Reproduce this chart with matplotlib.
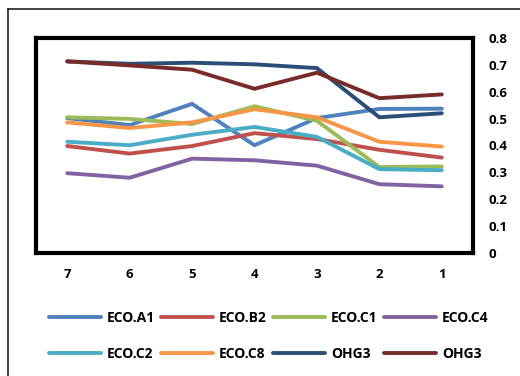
import matplotlib
matplotlib.use("Agg")
import matplotlib.pyplot as plt
from matplotlib.lines import Line2D

plt.rcParams['font.family'] = ['Open Sans', 'DejaVu Sans']

categories = ['7', '6', '5', '4', '3', '2', '1']
yticks = [0, 0.1, 0.2, 0.3, 0.4, 0.5, 0.6, 0.7, 0.8]
ytick_labels = ['0', '0.1', '0.2', '0.3', '0.4', '0.5', '0.6', '0.7', '0.8']

eco_a1 = [0.502, 0.476, 0.555, 0.401, 0.502, 0.536, 0.537]
eco_b2 = [0.398, 0.370, 0.398, 0.446, 0.424, 0.384, 0.355]
eco_c1 = [0.505, 0.499, 0.480, 0.546, 0.492, 0.320, 0.322]
eco_c4 = [0.297, 0.280, 0.351, 0.345, 0.325, 0.256, 0.248]
eco_c2 = [0.414, 0.401, 0.440, 0.469, 0.432, 0.312, 0.308]
eco_c8 = [0.486, 0.465, 0.486, 0.535, 0.505, 0.414, 0.396]
ohg3_a = [0.713, 0.704, 0.708, 0.702, 0.688, 0.505, 0.520]
ohg3_b = [0.713, 0.698, 0.682, 0.611, 0.671, 0.576, 0.590]

series = [
    ('ECO.A1', eco_a1, '#4F81BD'),
    ('ECO.B2', eco_b2, '#C0504D'),
    ('ECO.C1', eco_c1, '#9BBB59'),
    ('ECO.C4', eco_c4, '#8064A2'),
    ('ECO.C2', eco_c2, '#4BACC6'),
    ('ECO.C8', eco_c8, '#F79646'),
    ('OHG3', ohg3_a, '#2C4D75'),
    ('OHG3', ohg3_b, '#772C2A'),
]

fig = plt.figure(figsize=(5.2, 3.76), dpi=100)

# outer chart frame
fig.add_artist(Line2D([8 / 520, 8 / 520], [0, 1 - 9 / 376], color='#222222', lw=1.2))
fig.add_artist(Line2D([8 / 520, 1], [1 - 9 / 376, 1 - 9 / 376], color='#222222', lw=1.2))

ax = fig.add_axes([36 / 520, 1 - 253 / 376, 437 / 520, 215 / 376])
x = list(range(len(categories)))
handles = []
for name, vals, color in series:
    h, = ax.plot(x, vals, color=color, lw=2.8, solid_capstyle='round',
                 solid_joinstyle='miter', label=name)
    handles.append(h)

ax.set_xlim(-0.5, len(categories) - 0.5)
ax.set_ylim(0, 0.8)
ax.set_xticks(x)
ax.set_xticklabels(categories, fontweight='bold', fontsize=9.5)
ax.set_yticks(yticks)
ax.set_yticklabels(ytick_labels, fontweight='bold', fontsize=9.5)
ax.yaxis.tick_right()
ax.tick_params(axis='both', length=0)
ax.tick_params(axis='x', pad=11)
ax.tick_params(axis='y', pad=11)
for sp in ax.spines.values():
    sp.set_linewidth(3)
    sp.set_color('black')

# legend filled row by row
order = [0, 4, 1, 5, 2, 6, 3, 7]
fig.legend([handles[i] for i in order], [series[i][0] for i in order],
           ncol=4, loc='upper left', bbox_to_anchor=(36 / 520, 1 - 298 / 376),
           frameon=False, prop={'weight': 'bold', 'size': 10},
           handlelength=3.75, handletextpad=0.43, columnspacing=0.45,
           labelspacing=1.6)

fig.savefig('out.png', dpi=100)
